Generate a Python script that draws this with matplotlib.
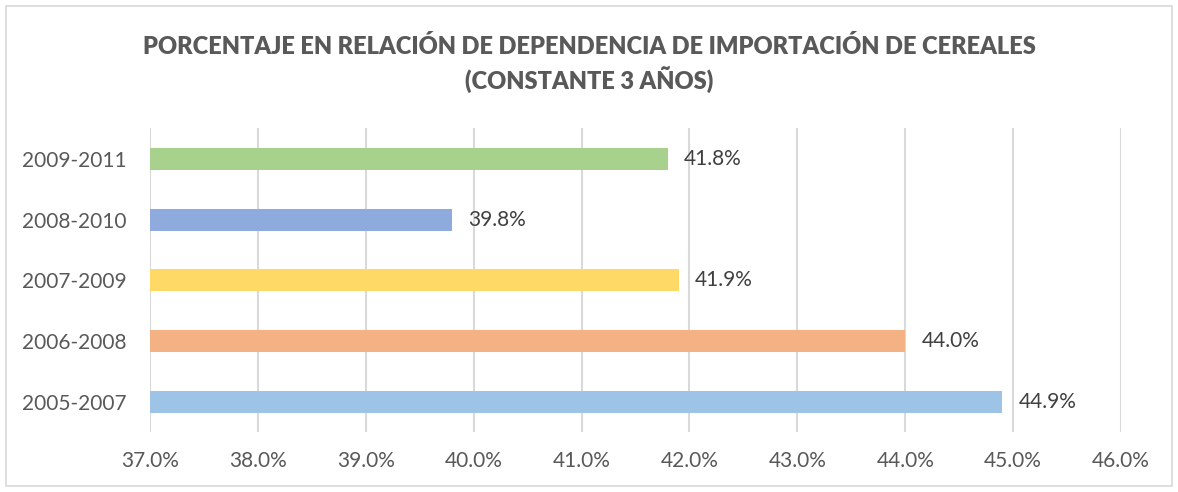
import matplotlib.pyplot as plt
from matplotlib.patches import Rectangle
from matplotlib.ticker import FuncFormatter

periods = ['2005-2007', '2006-2008', '2007-2009', '2008-2010', '2009-2011']
values = [44.9, 44.0, 41.9, 39.8, 41.8]
colors = ['#9DC3E6', '#F4B183', '#FFD966', '#8FAADC', '#A9D18E']

plt.rcParams['font.family'] = ['Lato', 'DejaVu Sans']

fig = plt.figure(figsize=(11.78, 4.92), dpi=100)
ax = fig.add_axes([150 / 1178, 0.121, (1121 - 150) / 1178, 0.618])

ax.barh(range(len(periods)), values, height=0.36, color=colors, zorder=2)
for i, v in enumerate(values):
    ax.text(v + 0.15, i, f'{v:.1f}%', va='center', ha='left',
            fontsize=15, color='#404040')

ax.set_xlim(37, 46)
ax.set_ylim(-0.5, len(periods) - 0.5)
ax.set_xticks(range(37, 47))
ax.xaxis.set_major_formatter(FuncFormatter(lambda x, _: f'{x:.1f}%'))
ax.set_yticks(range(len(periods)))
ax.set_yticklabels(periods)
ax.tick_params(axis='both', length=0, labelsize=15, labelcolor='#595959')
ax.tick_params(axis='x', pad=13)
ax.tick_params(axis='y', pad=17)
ax.grid(axis='x', color='#D9D9D9', linewidth=1.5, zorder=0)
for s in ax.spines.values():
    s.set_visible(False)

fig.text(0.5, 0.905, 'PORCENTAJE EN RELACIÓN DE DEPENDENCIA DE IMPORTACIÓN DE CEREALES',
         ha='center', va='center', fontsize=17, fontweight='heavy', color='#595959')
fig.text(0.5, 0.838, '(CONSTANTE 3 AÑOS)',
         ha='center', va='center', fontsize=17, fontweight='heavy', color='#595959')

fig.patches.append(Rectangle((6 / 1178, 6 / 492), 1 - 12 / 1178, 1 - 12 / 492,
                             transform=fig.transFigure, fill=False,
                             edgecolor='#D9D9D9', linewidth=1.2))

fig.savefig('out.png', dpi=100)
